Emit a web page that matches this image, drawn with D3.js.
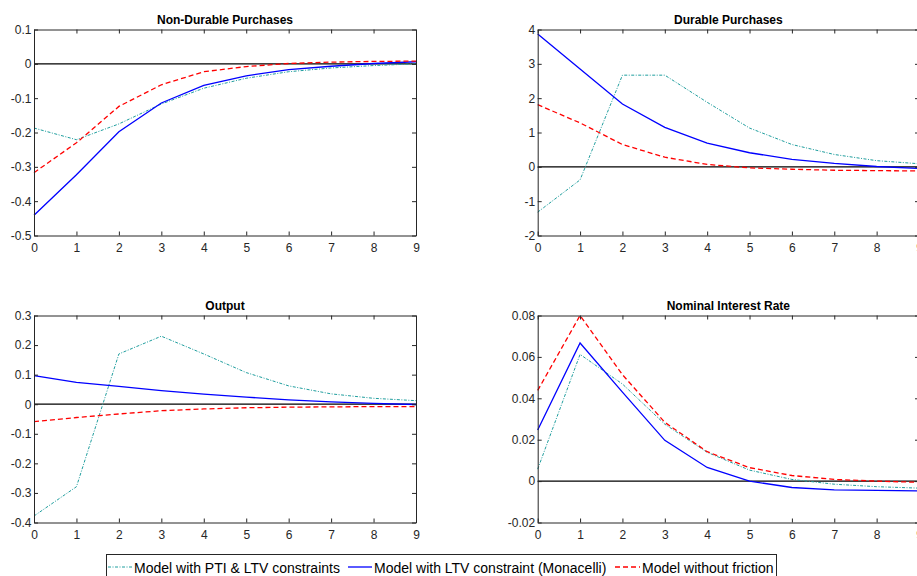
<!DOCTYPE html>
<html>
<head>
<meta charset="utf-8">
<script src="https://cdn.jsdelivr.net/npm/d3@7"></script>
<style>
  html, body { margin: 0; padding: 0; background: #fff; overflow: hidden; }
  svg { display: block; font-family: "Liberation Sans", Arial, Helvetica, sans-serif; }
</style>
</head>
<body>
<svg id="chart" width="917" height="576"></svg>
<script>
// ---- Data ----
const periods = [0, 1, 2, 3, 4, 5, 6, 7, 8, 9];
const seriesNames = ["Model with PTI & LTV constraints", "Model with LTV constraint (Monacelli)", "Model without friction"];

const titles = ["Non-Durable Purchases", "Durable Purchases", "Output", "Nominal Interest Rate"];

// Non-durable purchases
const ndPTI  = [-0.187, -0.221, -0.175, -0.117, -0.071, -0.042, -0.023, -0.012, -0.005, 0.000];
const ndLTV  = [-0.441, -0.323, -0.198, -0.114, -0.063, -0.035, -0.017, -0.007, 0.001, 0.006];
const ndNoFr = [-0.317, -0.230, -0.124, -0.061, -0.023, -0.008, 0.001, 0.005, 0.007, 0.008];

// Durable purchases
const dPTI  = [-1.32, -0.38, 2.67, 2.67, 1.88, 1.13, 0.65, 0.36, 0.18, 0.09];
const dLTV  = [3.87, 2.85, 1.83, 1.15, 0.69, 0.41, 0.22, 0.10, 0.01, -0.05];
const dNoFr = [1.81, 1.28, 0.65, 0.28, 0.07, -0.03, -0.07, -0.10, -0.11, -0.12];

// Output
const yPTI  = [-0.378, -0.279, 0.170, 0.230, 0.170, 0.107, 0.062, 0.035, 0.020, 0.012];
const yLTV  = [0.097, 0.074, 0.060, 0.046, 0.034, 0.024, 0.015, 0.008, 0.003, -0.001];
const yNoFr = [-0.059, -0.045, -0.033, -0.022, -0.016, -0.012, -0.010, -0.009, -0.008, -0.008];

// Nominal interest rate
const rPTI  = [0.0058, 0.0612, 0.0469, 0.0275, 0.0139, 0.0053, 0.0008, -0.0015, -0.0027, -0.0034];
const rLTV  = [0.0247, 0.0667, 0.0430, 0.0197, 0.0066, 0.0000, -0.0031, -0.0042, -0.0045, -0.0047];
const rNoFr = [0.0438, 0.0800, 0.0514, 0.0284, 0.0142, 0.0065, 0.0027, 0.0008, 0.0000, -0.0006];

// Axis ranges and ticks
const yDomains = [[-0.5, 0.1], [-2, 4], [-0.4, 0.3], [-0.02, 0.08]];
const yTicks = [
  [-0.5, -0.4, -0.3, -0.2, -0.1, 0, 0.1],
  [-2, -1, 0, 1, 2, 3, 4],
  [-0.4, -0.3, -0.2, -0.1, 0, 0.1, 0.2, 0.3],
  [-0.02, 0, 0.02, 0.04, 0.06, 0.08]
];
const xTicks = [0, 1, 2, 3, 4, 5, 6, 7, 8, 9];

const panelSeries = [
  [ndPTI, ndLTV, ndNoFr],
  [dPTI, dLTV, dNoFr],
  [yPTI, yLTV, yNoFr],
  [rPTI, rLTV, rNoFr]
];

// ---- Styles ----
const colors = ["#1f9e9e", "#0000ff", "#ff0000"];
const dashes = ["3,1.5,1,1.5", null, "5,3"];
const widths = [1.0, 1.3, 1.3];
const axisColor = "#262626";

// ---- Layout ----
const panels = [
  { x0: 34, x1: 416, y0: 29.5, y1: 235.5 },
  { x0: 537.7, x1: 919, y0: 29.5, y1: 235.5 },
  { x0: 34, x1: 416, y0: 315.5, y1: 522.5 },
  { x0: 537.7, x1: 919, y0: 315.5, y1: 522.5 }
];

const svg = d3.select("#chart");
const fmt = d => String(+d.toFixed(3));

panels.forEach((p, i) => {
  const x = d3.scaleLinear().domain([0, 9]).range([p.x0, p.x1]);
  const y = d3.scaleLinear().domain(yDomains[i]).range([p.y1, p.y0]);
  const g = svg.append("g");

  // Zero line
  g.append("line")
    .attr("x1", p.x0).attr("x2", p.x1)
    .attr("y1", y(0)).attr("y2", y(0))
    .attr("stroke", "#000").attr("stroke-width", 1.2);

  // Series
  const line = d3.line().x((d, k) => x(periods[k])).y(d => y(d));
  panelSeries[i].forEach((vals, s) => {
    g.append("path")
      .datum(vals)
      .attr("d", line)
      .attr("fill", "none")
      .attr("stroke", colors[s])
      .attr("stroke-width", widths[s])
      .attr("stroke-dasharray", dashes[s]);
  });

  // Axes (ticks inward)
  const tickLen = 4;
  const bottom = d3.axisBottom(x).tickValues(xTicks).tickSize(-tickLen).tickPadding(7.5).tickFormat(d3.format("d"));
  const top = d3.axisTop(x).tickValues(xTicks).tickSize(-tickLen).tickFormat("");
  const left = d3.axisLeft(y).tickValues(yTicks[i]).tickSize(-tickLen).tickPadding(2.5).tickFormat(fmt);
  const right = d3.axisRight(y).tickValues(yTicks[i]).tickSize(-tickLen).tickFormat("");

  const style = sel => {
    sel.selectAll("path.domain").attr("stroke", axisColor).attr("stroke-width", 1);
    sel.selectAll(".tick line").attr("stroke", axisColor).attr("stroke-width", 1);
    sel.selectAll(".tick text").attr("fill", axisColor).style("font-size", "12px")
      .style("font-family", '"Liberation Sans", Arial, sans-serif');
  };
  g.append("g").attr("transform", `translate(0,${p.y1})`).call(bottom.tickSizeOuter(0)).call(style);
  g.append("g").attr("transform", `translate(0,${p.y0})`).call(top.tickSizeOuter(0)).call(style);
  g.append("g").attr("transform", `translate(${p.x0},0)`).call(left.tickSizeOuter(0)).call(style);
  g.append("g").attr("transform", `translate(${p.x1},0)`).call(right.tickSizeOuter(0)).call(style);

  // Title
  g.append("text")
    .attr("x", (p.x0 + p.x1) / 2)
    .attr("y", p.y0 - 6)
    .attr("text-anchor", "middle")
    .attr("font-weight", "bold")
    .attr("font-size", "12px")
    .attr("fill", "#000")
    .text(titles[i]);
});

// ---- Legend ----
const lg = svg.append("g");
const legBox = { x: 106.5, y: 554.5, w: 670, h: 30 };
lg.append("rect")
  .attr("x", legBox.x).attr("y", legBox.y)
  .attr("width", legBox.w).attr("height", legBox.h)
  .attr("fill", "#fff").attr("stroke", axisColor).attr("stroke-width", 1);

const legItems = [
  { x1: 108, x2: 132, tx: 134 },
  { x1: 348, x2: 372, tx: 374 },
  { x1: 615, x2: 640, tx: 642 }
];
seriesNames.forEach((name, s) => {
  const it = legItems[s];
  lg.append("line")
    .attr("x1", it.x1).attr("x2", it.x2)
    .attr("y1", 567).attr("y2", 567)
    .attr("stroke", colors[s]).attr("stroke-width", widths[s])
    .attr("stroke-dasharray", dashes[s]);
  lg.append("text")
    .attr("x", it.tx).attr("y", 572.5)
    .attr("font-size", "14px")
    .attr("fill", "#000")
    .text(name);
});
</script>
</body>
</html>
